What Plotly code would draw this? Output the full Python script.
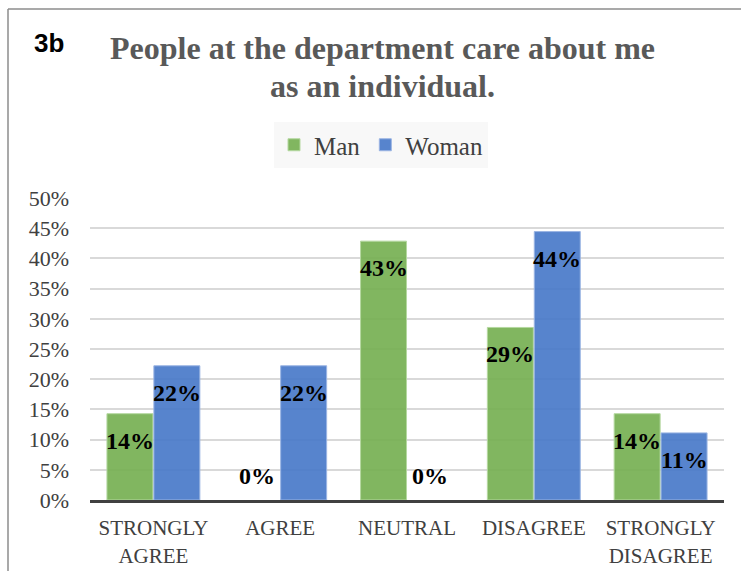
import plotly.graph_objects as go

categories = ["STRONGLY<br>AGREE", "AGREE", "NEUTRAL", "DISAGREE", "STRONGLY<br>DISAGREE"]
man = [14.29, 0.0, 42.86, 28.57, 14.29]
woman = [22.22, 22.22, 0.0, 44.44, 11.11]
series_names = ["Man", "Woman"]
y_ticks = [0, 5, 10, 15, 20, 25, 30, 35, 40, 45, 50]
y_tick_labels = [f"{t}%" for t in y_ticks]
title_lines = ["People at the department care about me", "as an individual."]
panel_label = "3b"

W, H = 741, 571
ML, MR, MT, MB = 90, 17, 198, 71
PW, PH = W - ML - MR, H - MT - MB

def px_x(x):
    return (x - ML) / PW

def px_y(y):
    return (H - MB - y) / PH

SERIF = "Liberation Serif, Times New Roman, serif"
green = "rgba(118,176,83,0.92)"
blue = "rgba(73,122,201,0.92)"
bargap = 0.26

fig = go.Figure()
fig.add_trace(go.Bar(x=categories, y=man, name=series_names[0],
                     marker=dict(color=green, line=dict(color="#b5d8a0",
                                 width=[1 if v > 0 else 0 for v in man]))))
fig.add_trace(go.Bar(x=categories, y=woman, name=series_names[1],
                     marker=dict(color=blue, line=dict(color="#9bb5e3",
                                 width=[1 if v > 0 else 0 for v in woman]))))

cat_w = PW / len(categories)
off = (1 - bargap) * cat_w / 4
annotations = []
for vals, sgn in ((man, -1), (woman, 1)):
    for c, v in zip(categories, vals):
        annotations.append(dict(
            x=c, y=v, xref="x", yref="y", text=f"<b>{v:.0f}%</b>", showarrow=False,
            xshift=sgn * off, yshift=(-27 if v > 0 else 24), yanchor="middle",
            font=dict(family=SERIF, size=24, color="#000000")))

for line, ypx in zip(title_lines, (48, 86)):
    annotations.append(dict(x=px_x(382.5), y=px_y(ypx), xref="paper", yref="paper",
                            text=f"<b>{line}</b>", showarrow=False,
                            xanchor="center", yanchor="middle",
                            font=dict(family=SERIF, size=32, color="#595959")))
annotations.append(dict(x=px_x(32), y=px_y(43), xref="paper", yref="paper",
                        text=f"<b>{panel_label}</b>", showarrow=False,
                        xanchor="left", yanchor="middle",
                        font=dict(family="Liberation Sans, Arial, sans-serif", size=26, color="#000000")))

shapes = [
    dict(type="line", xref="paper", yref="paper", x0=px_x(8), x1=px_x(745), y0=px_y(9), y1=px_y(9),
         line=dict(color="#8c8c8c", width=1.5)),
    dict(type="line", xref="paper", yref="paper", x0=px_x(8), x1=px_x(8), y0=px_y(9), y1=px_y(575),
         line=dict(color="#8c8c8c", width=1.5)),
]

fig.update_layout(
    width=W, height=H,
    margin=dict(l=ML, r=MR, t=MT, b=MB, pad=0, autoexpand=False),
    paper_bgcolor="white", plot_bgcolor="white",
    barmode="group", bargap=bargap, bargroupgap=0.02,
    showlegend=True,
    legend=dict(orientation="h", x=px_x(381), y=px_y(145), xanchor="center", yanchor="middle",
                bgcolor="#f8f8f8", font=dict(family=SERIF, size=25, color="#404040"),
                itemwidth=30, traceorder="normal"),
    annotations=annotations,
    shapes=shapes,
    font=dict(family=SERIF, color="#404040"),
)
fig.update_xaxes(showline=True, linecolor="#404040", linewidth=3, showgrid=False,
                 tickfont=dict(family=SERIF, size=21, color="#404040"), ticks="",
                 ticklabelstandoff=7, automargin=False)
fig.update_yaxes(range=[0, 50], tickvals=y_ticks, ticktext=y_tick_labels, showgrid=True,
                 gridcolor="#d9d9d9", gridwidth=1.5, zeroline=False, showline=False,
                 tickfont=dict(family=SERIF, size=22, color="#404040"), ticklabelstandoff=20,
                 automargin=False)

fig.write_html("out.html")
